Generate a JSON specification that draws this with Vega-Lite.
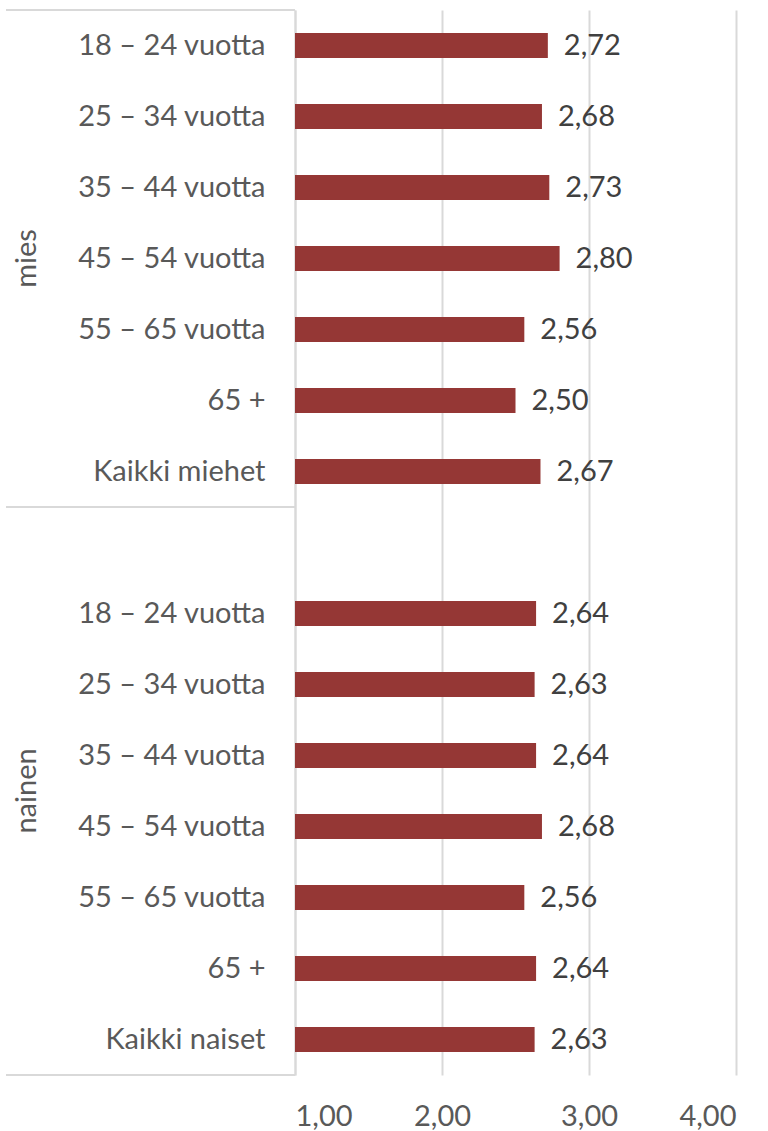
{
  "$schema": "https://vega.github.io/schema/vega-lite/v6.json",
  "width": 441,
  "height": 1065,
  "padding": {"left": 4, "top": 9, "right": 2, "bottom": 2},
  "background": "white",
  "config": {
    "view": {"stroke": null},
    "font": "Lato",
    "locale": {"number": {"decimal": ",", "thousands": "\u00a0", "grouping": [3], "currency": ["", " €"]}}
  },
  "datasets": {
    "scores": [
      {"key": "mies|18 – 24 vuotta", "value": 2.72},
      {"key": "mies|25 – 34 vuotta", "value": 2.68},
      {"key": "mies|35 – 44 vuotta", "value": 2.73},
      {"key": "mies|45 – 54 vuotta", "value": 2.80},
      {"key": "mies|55 – 65 vuotta", "value": 2.56},
      {"key": "mies|65 +", "value": 2.50},
      {"key": "mies|Kaikki miehet", "value": 2.67},
      {"key": "nainen|18 – 24 vuotta", "value": 2.64},
      {"key": "nainen|25 – 34 vuotta", "value": 2.63},
      {"key": "nainen|35 – 44 vuotta", "value": 2.64},
      {"key": "nainen|45 – 54 vuotta", "value": 2.68},
      {"key": "nainen|55 – 65 vuotta", "value": 2.56},
      {"key": "nainen|65 +", "value": 2.64},
      {"key": "nainen|Kaikki naiset", "value": 2.63}
    ],
    "groupStarts": [
      {"key": "mies|18 – 24 vuotta"},
      {"key": "nainen|"}
    ],
    "groupEnd": [
      {"key": "nainen|Kaikki naiset"}
    ],
    "groupMies": [
      {"group": "mies", "key": "mies|45 – 54 vuotta"}
    ],
    "groupNainen": [
      {"group": "nainen", "key": "nainen|45 – 54 vuotta"}
    ]
  },
  "layer": [
    {
      "data": {"name": "groupStarts"},
      "mark": {"type": "rule", "color": "#d9d9d9", "strokeWidth": 2},
      "encoding": {
        "y": {
          "field": "key", "type": "nominal", "bandPosition": 0,
          "scale": {"domain": ["mies|18 – 24 vuotta", "mies|25 – 34 vuotta", "mies|35 – 44 vuotta", "mies|45 – 54 vuotta", "mies|55 – 65 vuotta", "mies|65 +", "mies|Kaikki miehet", "nainen|", "nainen|18 – 24 vuotta", "nainen|25 – 34 vuotta", "nainen|35 – 44 vuotta", "nainen|45 – 54 vuotta", "nainen|55 – 65 vuotta", "nainen|65 +", "nainen|Kaikki naiset"], "paddingInner": 0, "paddingOuter": 0},
          "axis": {"orient": "left", "title": null, "ticks": false, "tickSize": 0, "labelPadding": 30, "labelFontSize": 29, "labelColor": "#595959", "labelFont": "Lato", "labelLimit": 0, "labelExpr": "split(datum.value, '|')[1]", "domainColor": "#d9d9d9", "domainWidth": 2, "grid": false}
        },
        "x": {"datum": -0.966, "type": "quantitative"},
        "x2": {"datum": 1}
      }
    },
    {
      "data": {"name": "groupEnd"},
      "mark": {"type": "rule", "color": "#d9d9d9", "strokeWidth": 2},
      "encoding": {
        "y": {
          "field": "key", "type": "nominal", "bandPosition": 1,
          "scale": {"domain": ["mies|18 – 24 vuotta", "mies|25 – 34 vuotta", "mies|35 – 44 vuotta", "mies|45 – 54 vuotta", "mies|55 – 65 vuotta", "mies|65 +", "mies|Kaikki miehet", "nainen|", "nainen|18 – 24 vuotta", "nainen|25 – 34 vuotta", "nainen|35 – 44 vuotta", "nainen|45 – 54 vuotta", "nainen|55 – 65 vuotta", "nainen|65 +", "nainen|Kaikki naiset"], "paddingInner": 0, "paddingOuter": 0},
          "axis": {"orient": "left", "title": null, "ticks": false, "tickSize": 0, "labelPadding": 30, "labelFontSize": 29, "labelColor": "#595959", "labelFont": "Lato", "labelLimit": 0, "labelExpr": "split(datum.value, '|')[1]", "domainColor": "#d9d9d9", "domainWidth": 2, "grid": false}
        },
        "x": {"datum": -0.966, "type": "quantitative"},
        "x2": {"datum": 1}
      }
    },
    {
      "data": {"name": "scores"},
      "mark": {"type": "bar", "color": "#953735", "height": {"band": 0.35}},
      "encoding": {
        "y": {
          "field": "key", "type": "nominal",
          "scale": {"domain": ["mies|18 – 24 vuotta", "mies|25 – 34 vuotta", "mies|35 – 44 vuotta", "mies|45 – 54 vuotta", "mies|55 – 65 vuotta", "mies|65 +", "mies|Kaikki miehet", "nainen|", "nainen|18 – 24 vuotta", "nainen|25 – 34 vuotta", "nainen|35 – 44 vuotta", "nainen|45 – 54 vuotta", "nainen|55 – 65 vuotta", "nainen|65 +", "nainen|Kaikki naiset"], "paddingInner": 0, "paddingOuter": 0},
          "axis": {"orient": "left", "title": null, "ticks": false, "tickSize": 0, "labelPadding": 30, "labelFontSize": 29, "labelColor": "#595959", "labelFont": "Lato", "labelLimit": 0, "labelExpr": "split(datum.value, '|')[1]", "domainColor": "#d9d9d9", "domainWidth": 2, "grid": false}
        },
        "x": {
          "field": "value", "type": "quantitative",
          "scale": {"domain": [1, 4], "zero": false, "nice": false},
          "axis": {"orient": "bottom", "title": null, "values": [1, 2, 3, 4], "format": ".2f", "domain": false, "ticks": false, "tickSize": 0, "labelPadding": 27, "labelFontSize": 29, "labelColor": "#595959", "labelFont": "Lato", "grid": true, "gridColor": "#d9d9d9", "gridWidth": 2}
        },
        "x2": {"datum": 1}
      }
    },
    {
      "data": {"name": "scores"},
      "mark": {"type": "text", "align": "left", "baseline": "middle", "dx": 16, "fontSize": 29, "color": "#404040", "font": "Lato"},
      "encoding": {
        "y": {
          "field": "key", "type": "nominal",
          "scale": {"domain": ["mies|18 – 24 vuotta", "mies|25 – 34 vuotta", "mies|35 – 44 vuotta", "mies|45 – 54 vuotta", "mies|55 – 65 vuotta", "mies|65 +", "mies|Kaikki miehet", "nainen|", "nainen|18 – 24 vuotta", "nainen|25 – 34 vuotta", "nainen|35 – 44 vuotta", "nainen|45 – 54 vuotta", "nainen|55 – 65 vuotta", "nainen|65 +", "nainen|Kaikki naiset"], "paddingInner": 0, "paddingOuter": 0},
          "axis": {"orient": "left", "title": null, "ticks": false, "tickSize": 0, "labelPadding": 30, "labelFontSize": 29, "labelColor": "#595959", "labelFont": "Lato", "labelLimit": 0, "labelExpr": "split(datum.value, '|')[1]", "domainColor": "#d9d9d9", "domainWidth": 2, "grid": false}
        },
        "x": {"field": "value", "type": "quantitative"},
        "text": {"field": "value", "type": "quantitative", "format": ".2f"}
      }
    },
    {
      "data": {"name": "groupMies"},
      "mark": {"type": "text", "angle": 270, "align": "center", "baseline": "middle", "fontSize": 29, "color": "#595959", "font": "Lato"},
      "encoding": {
        "y": {
          "field": "key", "type": "nominal", "bandPosition": 0.5,
          "scale": {"domain": ["mies|18 – 24 vuotta", "mies|25 – 34 vuotta", "mies|35 – 44 vuotta", "mies|45 – 54 vuotta", "mies|55 – 65 vuotta", "mies|65 +", "mies|Kaikki miehet", "nainen|", "nainen|18 – 24 vuotta", "nainen|25 – 34 vuotta", "nainen|35 – 44 vuotta", "nainen|45 – 54 vuotta", "nainen|55 – 65 vuotta", "nainen|65 +", "nainen|Kaikki naiset"], "paddingInner": 0, "paddingOuter": 0},
          "axis": {"orient": "left", "title": null, "ticks": false, "tickSize": 0, "labelPadding": 30, "labelFontSize": 29, "labelColor": "#595959", "labelFont": "Lato", "labelLimit": 0, "labelExpr": "split(datum.value, '|')[1]", "domainColor": "#d9d9d9", "domainWidth": 2, "grid": false}
        },
        "x": {"datum": -0.82, "type": "quantitative"},
        "text": {"field": "group"}
      }
    },
    {
      "data": {"name": "groupNainen"},
      "mark": {"type": "text", "angle": 270, "align": "center", "baseline": "middle", "fontSize": 29, "color": "#595959", "font": "Lato"},
      "encoding": {
        "y": {
          "field": "key", "type": "nominal", "bandPosition": 0,
          "scale": {"domain": ["mies|18 – 24 vuotta", "mies|25 – 34 vuotta", "mies|35 – 44 vuotta", "mies|45 – 54 vuotta", "mies|55 – 65 vuotta", "mies|65 +", "mies|Kaikki miehet", "nainen|", "nainen|18 – 24 vuotta", "nainen|25 – 34 vuotta", "nainen|35 – 44 vuotta", "nainen|45 – 54 vuotta", "nainen|55 – 65 vuotta", "nainen|65 +", "nainen|Kaikki naiset"], "paddingInner": 0, "paddingOuter": 0},
          "axis": {"orient": "left", "title": null, "ticks": false, "tickSize": 0, "labelPadding": 30, "labelFontSize": 29, "labelColor": "#595959", "labelFont": "Lato", "labelLimit": 0, "labelExpr": "split(datum.value, '|')[1]", "domainColor": "#d9d9d9", "domainWidth": 2, "grid": false}
        },
        "x": {"datum": -0.82, "type": "quantitative"},
        "text": {"field": "group"}
      }
    }
  ]
}
